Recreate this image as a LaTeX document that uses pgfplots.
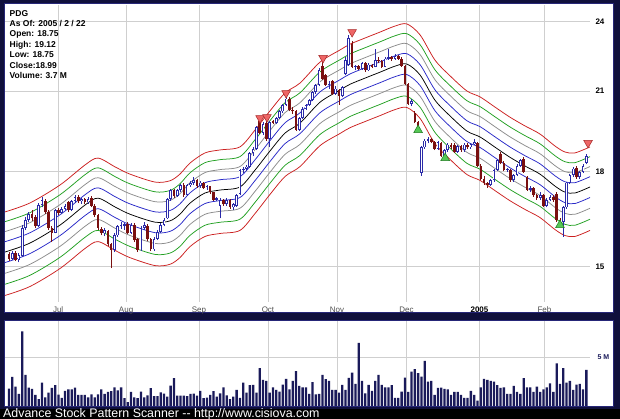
\documentclass[border=0pt]{standalone}
\usepackage{pgfplots}
\pgfplotsset{compat=1.18}
\usepackage{pgfplotstable}
\usepackage{fontspec}
\setmainfont{Liberation Sans}

\definecolor{framenavy}{HTML}{10103C}
\definecolor{frameline}{HTML}{262678}
\definecolor{gridgray}{HTML}{CFCFCF}
\definecolor{upblue}{HTML}{2A2AA8}
\definecolor{downred}{HTML}{7A1010}
\definecolor{bandred}{HTML}{CC2020}
\definecolor{bandgreen}{HTML}{22A022}
\definecolor{bandgray}{HTML}{8C8C8C}
\definecolor{bandblue}{HTML}{2828C8}
\definecolor{volnavy}{HTML}{1A1A5A}
\definecolor{trired}{HTML}{EE6666}
\definecolor{triredd}{HTML}{A82828}
\definecolor{trigreen}{HTML}{55C855}
\definecolor{trigreend}{HTML}{1E7A1E}
\definecolor{labgray}{HTML}{505050}

\pgfplotstableread{
i o h l c v
0 15.35 15.42 15.15 15.22 1.8
1 15.22 15.45 15.18 15.38 3.0
2 15.40 15.45 15.15 15.20 2.0
3 15.20 15.38 15.12 15.32 1.24
4 15.30 16.25 15.28 16.15 7.7
5 16.15 16.50 16.10 16.40 3.2
6 16.40 16.65 16.35 16.58 1.9
7 16.60 16.70 16.38 16.45 1.76
8 16.48 16.55 16.15 16.20 1.14
9 16.22 16.95 16.18 16.88 0.72
10 16.88 17.15 16.80 17.05 2.4
11 17.02 17.08 16.60 16.65 0.9
12 16.65 16.70 16.10 16.15 1.38
13 16.15 16.22 15.72 16.00 1.86
14 16.00 16.75 15.98 16.70 2.14
15 16.70 16.78 16.55 16.62 1.17
16 16.62 16.80 16.58 16.75 0.83
17 16.75 16.92 16.70 16.85 1.55
18 16.98 17.02 16.65 16.70 1.72
19 16.72 17.05 16.68 17.00 1.72
20 17.00 17.22 16.95 17.15 1.9
21 17.15 17.20 16.95 17.00 1.14
22 17.00 17.12 16.92 17.06 1.14
23 17.06 17.10 16.90 16.96 1.14
24 16.96 17.15 16.92 17.08 0.9
25 17.12 17.16 16.80 16.85 1.2
26 16.85 16.90 16.50 16.55 0.9
27 16.55 16.60 16.10 16.15 1.2
28 16.12 16.18 15.92 15.98 1.72
29 15.98 16.15 15.90 16.08 1.24
30 16.05 16.10 15.60 15.65 1.45
31 15.65 15.70 14.95 15.48 1.52
32 15.48 15.98 15.42 15.92 1.93
33 15.92 16.25 15.88 16.20 1.6
34 16.20 16.32 16.12 16.25 1.93
35 16.22 16.30 16.10 16.26 0.8
36 16.28 16.35 15.95 16.00 0.4
37 16.00 16.30 15.96 16.25 1.45
38 16.25 16.30 15.72 15.78 0.9
39 15.80 15.85 15.42 15.48 0.8
40 15.50 16.20 15.45 16.15 1.48
41 16.15 16.35 16.10 16.25 0.9
42 16.22 16.28 15.75 15.80 1.1
43 15.80 15.85 15.45 15.50 1.83
44 15.50 15.88 15.45 15.82 1.03
45 15.82 16.08 15.78 16.02 1.03
46 16.02 16.30 15.98 16.25 1.41
47 16.25 16.45 16.20 16.40 1.28
48 16.45 17.12 16.42 17.08 0.97
49 17.08 17.42 17.02 17.37 2.1
50 17.37 17.42 17.12 17.18 2.86
51 17.18 17.42 17.15 17.37 1.07
52 17.37 17.58 17.30 17.53 1.07
53 17.55 17.62 17.15 17.20 1.07
54 17.20 17.58 17.18 17.53 1.03
55 17.53 17.68 17.48 17.60 1.24
56 17.60 17.80 17.55 17.70 1.28
57 17.72 17.75 17.45 17.50 1.07
58 17.50 17.68 17.45 17.62 1.55
59 17.62 17.65 17.40 17.43 0.8
60 17.43 17.55 17.38 17.50 0.86
61 17.50 17.52 17.25 17.30 1.14
62 17.30 17.32 17.00 17.05 1.52
63 17.05 17.15 17.00 17.10 0.97
64 16.85 17.10 16.45 17.05 1.31
65 17.05 17.08 16.85 16.90 1.93
66 16.90 17.10 16.85 17.05 1.1
67 17.05 17.08 16.75 16.80 0.72
68 16.80 16.95 16.70 16.90 0.97
69 16.85 17.25 16.82 17.20 1.66
70 17.25 18.10 17.22 18.05 0.83
71 18.05 18.15 17.95 18.10 2.4
72 18.10 18.22 18.02 18.17 1.38
73 18.17 18.70 18.12 18.65 2.14
74 18.65 18.85 18.55 18.80 2.17
75 18.80 19.65 18.75 19.60 1.38
76 19.85 19.95 19.35 19.40 3.9
77 19.40 19.80 19.30 19.70 2.7
78 19.75 19.90 19.10 19.15 2.6
79 19.15 19.85 18.85 19.80 1.38
80 19.82 19.88 19.70 19.75 1.93
81 19.75 20.00 19.70 19.95 1.66
82 19.95 20.25 19.90 20.20 1.48
83 20.20 20.50 20.15 20.45 2.2
84 20.45 20.85 20.40 20.70 2.8
85 20.70 20.75 20.20 20.25 1.72
86 20.25 20.35 20.10 20.20 2.6
87 20.20 20.25 19.45 19.50 3.6
88 19.50 20.00 19.45 19.95 2.07
89 19.95 20.35 19.90 20.30 1.93
90 20.30 20.50 20.25 20.45 1.93
91 20.45 20.70 20.40 20.65 1.24
92 20.65 21.00 20.60 20.97 2.45
93 20.97 21.30 20.90 21.25 1.2
94 21.25 21.95 21.20 21.85 1.24
95 22.05 22.20 21.45 21.50 3.2
96 21.65 21.70 21.20 21.25 2.76
97 21.25 21.40 21.10 21.28 2.6
98 21.40 21.45 20.85 20.90 1.66
99 20.90 21.20 20.85 21.10 1.66
100 21.05 21.10 20.45 20.80 1.38
101 20.80 21.20 20.75 21.15 2.17
102 21.70 22.40 21.65 22.30 1.66
103 22.10 23.40 22.05 23.25 2.9
104 23.00 23.10 21.95 22.00 3.45
105 22.00 22.10 21.85 22.02 2.28
106 22.02 22.08 21.85 21.90 6.5
107 21.90 22.20 21.88 22.15 2.6
108 22.15 22.22 21.80 21.85 1.31
109 21.85 22.15 21.82 22.10 2.17
110 22.10 22.12 21.95 22.00 1.55
111 22.00 22.75 21.98 22.30 2.6
112 22.30 22.40 22.15 22.25 3.2
113 22.25 22.30 21.95 22.00 2.17
114 22.00 22.40 21.98 22.35 1.93
115 22.35 22.75 22.30 22.40 1.93
116 22.40 22.45 22.25 22.35 2.14
117 22.35 22.55 22.30 22.45 0.83
118 22.45 22.50 22.30 22.35 0.83
119 22.35 22.40 22.00 22.05 1.48
120 22.05 22.10 21.25 21.30 2.93
121 21.30 21.35 20.45 20.50 1.45
122 20.50 20.70 20.40 20.60 3.55
123 20.15 20.20 19.75 19.80 3.8
124 19.80 19.85 19.50 19.55 3.38
125 17.95 18.90 17.85 18.85 3.03
126 18.85 19.15 18.80 19.10 4.66
127 19.10 19.25 19.00 19.15 2.5
128 19.15 19.20 19.00 19.05 2.6
129 19.05 19.10 18.75 18.80 1.14
130 18.80 19.10 18.75 19.05 1.86
131 19.00 19.05 18.50 18.55 1.9
132 18.55 18.80 18.50 18.75 1.76
133 18.75 19.00 18.70 18.95 1.72
134 18.95 19.00 18.80 18.85 1.14
135 18.95 19.00 18.65 18.70 1.45
136 18.70 18.95 18.65 18.90 1.45
137 18.90 18.95 18.70 18.75 1.14
138 18.75 19.00 18.70 18.95 0.83
139 18.95 19.00 18.80 18.85 0.83
140 18.85 19.02 18.80 18.98 1.55
141 18.98 19.15 18.95 19.05 1.14
142 19.00 19.05 18.15 18.20 0.55
143 18.20 18.25 17.70 17.75 1.93
144 17.75 17.85 17.55 17.60 2.8
145 17.60 17.65 17.45 17.53 2.7
146 17.53 17.75 17.50 17.70 2.6
147 17.70 18.10 17.65 18.05 2.5
148 18.05 18.45 18.00 18.40 2.14
149 18.60 18.70 18.25 18.30 1.86
150 18.30 18.35 18.00 18.05 1.93
151 18.05 18.12 17.98 18.08 1.24
152 18.05 18.10 17.65 17.70 1.24
153 17.70 17.92 17.65 17.88 2.07
154 17.88 18.25 17.85 18.20 1.45
155 18.20 18.45 18.15 18.40 1.24
156 18.45 18.50 17.95 17.98 2.86
157 17.80 17.85 17.35 17.38 1.93
158 17.38 17.50 17.30 17.43 1.93
159 17.43 17.48 17.15 17.20 1.45
160 17.20 17.25 17.05 17.10 2.0
161 17.10 17.30 17.05 17.20 1.45
162 17.20 17.25 16.80 16.85 1.72
163 16.85 17.10 16.80 17.05 1.93
164 17.05 17.20 17.00 17.15 2.34
165 17.15 17.22 16.98 17.05 1.45
166 17.25 17.30 16.35 16.40 4.4
167 16.40 16.45 16.25 16.35 2.28
168 16.35 16.85 15.88 16.80 3.9
169 16.80 17.65 16.75 17.62 2.4
170 17.62 17.92 17.58 17.88 2.6
171 17.88 18.15 17.82 18.10 1.66
172 18.12 18.18 17.75 17.80 2.2
173 17.80 18.02 17.75 17.98 2.28
174 17.98 18.25 17.95 18.20 1.72
175 18.30 18.60 18.25 18.55 3.72
}\candles

\pgfplotstableread{
x m
-1.2 15.42
6.4 15.69
15.5 16.24
23.1 16.88
27.0 17.10
32.2 16.81
36.7 16.58
44.3 16.33
48.8 16.37
51.8 16.58
54.9 16.94
59.4 17.27
64.0 17.37
70.0 17.47
74.6 18.05
79.1 18.72
83.7 19.38
88.2 19.75
94.3 20.56
100.3 21.04
103.4 21.28
107.9 21.53
112.5 21.78
117.0 22.03
120.6 22.12
124.6 21.66
129.1 20.64
133.7 20.02
138.8 19.45
142.8 19.23
147.3 18.86
151.8 18.50
156.4 18.19
160.9 17.91
165.5 17.50
168.5 17.30
171.5 17.27
176.1 17.47
}\bands

\pgfplotsset{
  candlebar/.style={draw=none, mark=none, mark size=0pt,
    mark options={draw=none, fill=none},
    error bars/y dir=plus, error bars/y explicit, error bars/error mark=none},
}

\begin{document}
\begin{tikzpicture}[x=1pt,y=1pt]
\fill[black] (0,0) rectangle (620,419);
\fill[framenavy] (0,10) rectangle (620,419);
\fill[white] (5,107) rectangle (613,415);
\draw[frameline, line width=1pt] (4.5,106.5) rectangle (613.5,415.5);
\fill[white] (5,13) rectangle (613,98);
\draw[frameline, line width=1pt] (4.5,12.5) rectangle (613.5,98.5);

% ---------- price panel ----------
\begin{axis}[
  at={(5pt,117pt)}, anchor=south west,
  scale only axis, width=585pt, height=297pt,
  xmin=-1.2, xmax=176.1, ymin=2.6397, ymax=3.2098,
  enlargelimits=false,
  axis line style={draw=none}, tick style={draw=none},
  xtick={14.9,35.5,57.6,78.5,99.4,120.5,142.6,162.3},
  xticklabels={Jul,Aug,Sep,Oct,Nov,Dec,{\color{black}\bfseries 2005},Feb},
  xticklabel style={font=\fontsize{8}{9}\selectfont, text=labgray, yshift=-1pt},
  ytick={2.70805,2.89037,3.04452,3.17805},
  yticklabels={15,18,21,24},
  yticklabel pos=right,
  yticklabel style={font=\bfseries\fontsize{8}{9}\selectfont, xshift=2pt},
  grid=major, major grid style={draw=gridgray, line width=0.6pt},
]
% envelope bands
\addplot[bandred, line width=0.75pt, smooth] table[x=x, y expr={ln(\thisrow{m})+0.076961}] \bands;
\addplot[bandgreen, line width=0.75pt, smooth] table[x=x, y expr={ln(\thisrow{m})+0.058269}] \bands;
\addplot[bandgray, line width=0.75pt, smooth] table[x=x, y expr={ln(\thisrow{m})+0.039221}] \bands;
\addplot[bandblue, line width=0.75pt, smooth] table[x=x, y expr={ln(\thisrow{m})+0.019803}] \bands;
\addplot[black, line width=0.75pt, smooth] table[x=x, y expr={ln(\thisrow{m})}] \bands;
\addplot[bandblue, line width=0.75pt, smooth] table[x=x, y expr={ln(\thisrow{m})-0.020203}] \bands;
\addplot[bandgray, line width=0.75pt, smooth] table[x=x, y expr={ln(\thisrow{m})-0.040822}] \bands;
\addplot[bandgreen, line width=0.75pt, smooth] table[x=x, y expr={ln(\thisrow{m})-0.061875}] \bands;
\addplot[bandred, line width=0.75pt, smooth] table[x=x, y expr={ln(\thisrow{m})-0.083382}] \bands;

% wicks
\addplot[candlebar, error bars/error bar style={draw=upblue, line width=0.8pt}]
  table[x=i, y expr={ln(\thisrow{l})},
        y error plus expr={(\thisrow{c}>=\thisrow{o})*(ln(\thisrow{h})-ln(\thisrow{l}))}] \candles;
\addplot[candlebar, error bars/error bar style={draw=downred, line width=0.8pt}]
  table[x=i, y expr={ln(\thisrow{l})},
        y error plus expr={(\thisrow{c}<\thisrow{o})*(ln(\thisrow{h})-ln(\thisrow{l}))}] \candles;
% down bodies
\addplot[candlebar, error bars/error bar style={draw=downred, line width=2.5pt}]
  table[x=i, y expr={ln(\thisrow{c})},
        y error plus expr={(\thisrow{c}<\thisrow{o})*(ln(\thisrow{o})-ln(\thisrow{c}))}] \candles;
% up bodies (hollow)
\addplot[candlebar, error bars/error bar style={draw=upblue, line width=2.7pt}]
  table[x=i, y expr={ln(\thisrow{o})},
        y error plus expr={(\thisrow{c}>\thisrow{o})*(ln(\thisrow{c})-ln(\thisrow{o}))}] \candles;
\addplot[candlebar, error bars/error bar style={draw=white, line width=1.0pt}]
  table[x=i, y expr={ln(\thisrow{o})+0.0016},
        y error plus expr={max((\thisrow{c}>\thisrow{o})*(ln(\thisrow{c})-ln(\thisrow{o}))-0.0032,0)}] \candles;

% signal triangles
\addplot[only marks, mark=triangle*, mark size=5pt,
  mark options={rotate=180, fill=trired, draw=triredd, line width=0.5pt}]
  table[x=x, y expr={ln(\thisrow{p})}] {
x p
76.1 19.94
78.2 19.98
84.0 20.92
95.2 22.38
104.0 23.52
175.5 19.01
};
\addplot[only marks, mark=triangle*, mark size=5pt,
  mark options={fill=trigreen, draw=trigreend, line width=0.5pt}]
  table[x=x, y expr={ln(\thisrow{p})}] {
x p
124.0 19.49
132.2 18.47
167.0 16.24
};
\end{axis}

% ---------- volume panel ----------
\begin{axis}[
  at={(5pt,13pt)}, anchor=south west,
  scale only axis, width=585pt, height=85pt,
  xmin=-1.2, xmax=176.1, ymin=0, ymax=8.76,
  enlargelimits=false,
  axis line style={draw=none}, tick style={draw=none},
  xtick={14.9,35.5,57.6,78.5,99.4,120.5,142.6,162.3},
  xticklabel=\empty,
  ytick={5}, yticklabels={5 M},
  yticklabel pos=right,
  yticklabel style={font=\bfseries\fontsize{7}{8}\selectfont, text=volnavy, xshift=4pt},
  grid=major, major grid style={draw=gridgray, line width=0.6pt},
]
\addplot[ybar, bar width=2.3pt, fill=volnavy, draw=none] table[x=i, y=v] \candles;
\end{axis}

% ---------- texts ----------
\node[anchor=north west, inner sep=0pt, align=left,
      font=\bfseries\fontsize{8.5}{10.4}\selectfont] at (9.5,409)
  {PDG\\As Of: 2005 / 2 / 22\\Open: 18.75\\High: 19.12\\Low: 18.75\\Close:18.99\\Volume: 3.7 M};
\node[anchor=west, inner sep=0pt, text=white, font=\fontsize{12.4}{13}\selectfont] at (3,5.2)
  {Advance Stock Pattern Scanner -{}- http://www.cisiova.com};

\pgfresetboundingbox
\path[use as bounding box] (0,0) rectangle (620,419);
\end{tikzpicture}
\end{document}
